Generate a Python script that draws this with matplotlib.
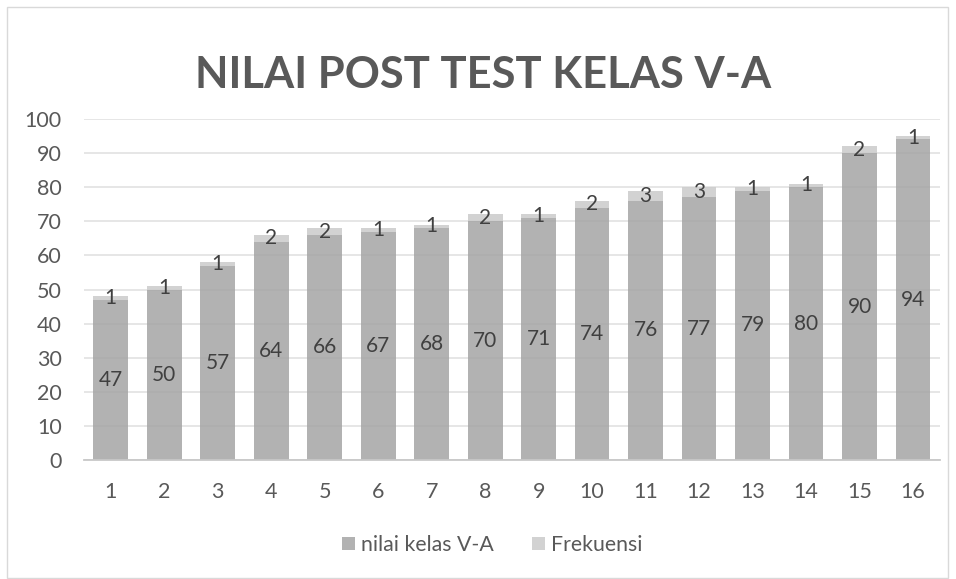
import numpy as np
import matplotlib.pyplot as plt
from matplotlib.patches import Rectangle

# data
categories = [str(i) for i in range(1, 17)]
nilai = [47, 50, 57, 64, 66, 67, 68, 70, 71, 74, 76, 77, 79, 80, 90, 94]
frekuensi = [1, 1, 1, 2, 2, 1, 1, 2, 1, 2, 3, 3, 1, 1, 2, 1]

plt.rcParams['font.family'] = ['Lato', 'DejaVu Sans']

fig = plt.figure(figsize=(9.56, 5.79), dpi=100)
fig.patch.set_facecolor('white')
ax = fig.add_axes([0.0879, 0.2055, 0.8951, 0.589])

x = np.arange(len(categories))
c_bottom = '#a5a5a5'
c_top = '#cbcbcb'
b1 = ax.bar(x, nilai, width=0.65, color=c_bottom, alpha=0.85, label='nilai kelas V-A', zorder=2)
b2 = ax.bar(x, frekuensi, width=0.65, bottom=nilai, color=c_top, alpha=0.85, label='Frekuensi', zorder=2)

for i in range(len(x)):
    ax.text(x[i], nilai[i] / 2, str(nilai[i]), ha='center', va='center',
            fontsize=15, color='#404040', zorder=3)
    ax.text(x[i], nilai[i] + frekuensi[i] / 2, str(frekuensi[i]), ha='center', va='center',
            fontsize=15, color='#404040', zorder=3)

ax.set_xlim(-0.5, len(x) - 0.5)
ax.set_ylim(0, 100)
ax.set_yticks(range(0, 101, 10))
ax.set_xticks(x)
ax.set_xticklabels(categories)
ax.yaxis.grid(True, color='#e4e4e4', linewidth=1.3, zorder=0)
ax.set_axisbelow(True)
for s in ['top', 'right', 'left']:
    ax.spines[s].set_visible(False)
ax.spines['bottom'].set_color('#c8c8c8')
ax.spines['bottom'].set_linewidth(1.3)
ax.tick_params(axis='both', length=0, labelsize=15.5, colors='#595959')
ax.tick_params(axis='x', pad=16)
ax.tick_params(axis='y', pad=16)

fig.text(0.505, 0.87, 'NILAI POST TEST KELAS V-A', ha='center', va='center',
         fontsize=31.3, fontweight='bold', color='#595959')

fig.legend(handles=[b1, b2], loc='center', bbox_to_anchor=(0.515, 0.059), ncol=2,
           frameon=False, fontsize=15.3, labelcolor='#595959', handlelength=0.6,
           handleheight=0.6, handletextpad=0.3, columnspacing=1.8)

fig.patches.append(Rectangle((7 / 956, 1 / 579), 941 / 956, 571 / 579, transform=fig.transFigure,
                             fill=False, edgecolor='#d9d9d9', linewidth=1))

fig.savefig('out.png', dpi=100, facecolor='white')
